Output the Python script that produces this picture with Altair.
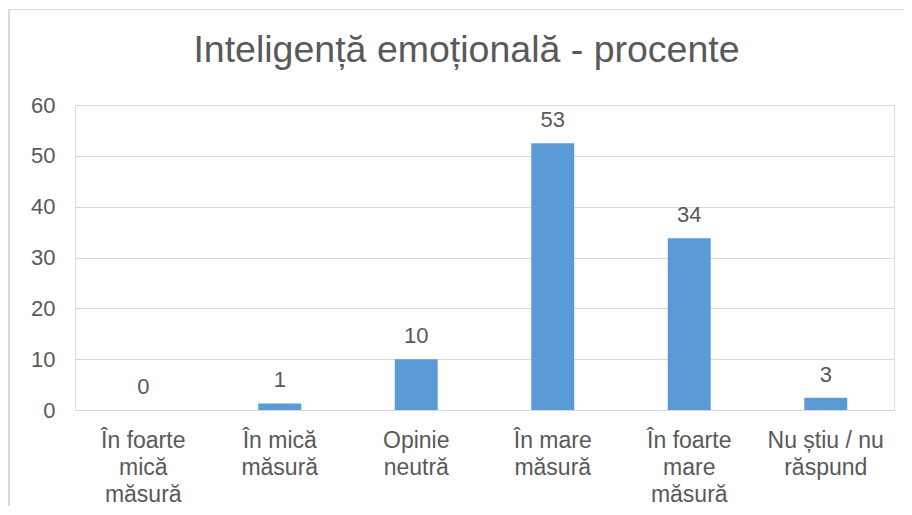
import altair as alt
import pandas as pd

categories = [
    "În foarte\nmică\nmăsură",
    "În mică\nmăsură",
    "Opinie\nneutră",
    "În mare\nmăsură",
    "În foarte\nmare\nmăsură",
    "Nu știu / nu\nrăspund",
]
values = [0, 1.3, 10, 52.5, 33.8, 2.4]
value_labels = ["0", "1", "10", "53", "34", "3"]

df = pd.DataFrame({"cat": categories, "val": values, "lab": value_labels})

TEXT = "#595959"
GRID = "#D9D9D9"
FONT = "Liberation Sans"
W, H = 819, 305

x = alt.X(
    "cat:N",
    sort=None,
    title=None,
    scale=alt.Scale(paddingInner=0.685, paddingOuter=0.3425),
    axis=alt.Axis(
        labelExpr="split(datum.label, '\\n')",
        labelAngle=0,
        labelFont=FONT,
        labelFontSize=23,
        labelColor=TEXT,
        labelBaseline="alphabetic",
        labelPadding=37,
        labelLineHeight=27,
        labelLimit=0,
        ticks=False,
        domainColor=GRID,
        domainWidth=1,
        grid=False,
    ),
)
y = alt.Y(
    "val:Q",
    title=None,
    scale=alt.Scale(domain=[0, 60], nice=False),
    axis=alt.Axis(
        values=[0, 10, 20, 30, 40, 50, 60],
        labelFont=FONT,
        labelFontSize=22,
        labelColor=TEXT,
        labelPadding=20,
        ticks=False,
        domain=False,
        gridColor=GRID,
        gridWidth=1,
    ),
)

frame = alt.Chart(df).mark_rect(
    fill=None, stroke=GRID, strokeWidth=1, clip=False
).encode(
    x=alt.value(-66), x2=alt.value(W + 40), y=alt.value(-95.5), y2=alt.value(H + 150)
)

bars = alt.Chart(df).mark_bar(color="#5B9BD5").encode(x=x, y=y)

labels = alt.Chart(df).mark_text(
    font=FONT, fontSize=22, color=TEXT, baseline="alphabetic", dy=-16
).encode(x=alt.X("cat:N", sort=None), y="val:Q", text="lab:N")

chart = (
    alt.layer(frame, bars, labels)
    .properties(
        width=W,
        height=H,
        padding={"left": 67, "top": 97, "right": 10, "bottom": 96},
        autosize=alt.AutoSizeParams(type="none"),
        title=alt.TitleParams(
            "Inteligență emoțională - procente",
            font=FONT,
            fontSize=37.5,
            fontWeight="normal",
            color=TEXT,
            anchor="middle",
            baseline="alphabetic",
            offset=-90.5,
            dx=-18,
        ),
    )
    .configure_view(stroke=None)
    .configure(background="white")
)

chart.save("out.html", embed_options={"renderer": "svg", "actions": False})
